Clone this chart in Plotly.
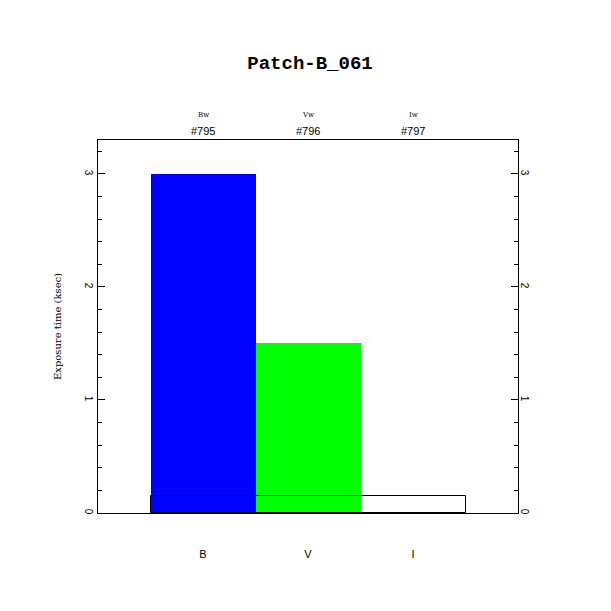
import plotly.graph_objects as go

categories = ["B", "V", "I"]
exposure_ksec = [3.0, 1.5, 0.0]
bar_colors = ["#0000ff", "#00ff00", "#ffffff"]
filter_names = ["Bw", "Vw", "Iw"]
obs_ids = ["#795", "#796", "#797"]
outline_value = 0.15
title = "Patch-B_061"
y_ticks = [0, 1, 2, 3]

xpos = list(range(len(categories)))

fig = go.Figure()
fig.add_trace(go.Bar(
    x=xpos, y=exposure_ksec, width=1.0,
    marker=dict(color=bar_colors, line=dict(width=0)),
    showlegend=False, hoverinfo="skip"))
fig.add_trace(go.Bar(
    x=[sum(xpos) / len(xpos)], y=[outline_value], width=float(len(xpos)),
    marker=dict(color="rgba(0,0,0,0)", line=dict(color="black", width=1)),
    showlegend=False, hoverinfo="skip"))
# invisible helper so the right-hand axis is drawn
fig.add_trace(go.Scatter(
    x=xpos, y=exposure_ksec, yaxis="y2", mode="markers",
    marker=dict(opacity=0), showlegend=False, hoverinfo="skip"))

for xi, fn, oid in zip(xpos, filter_names, obs_ids):
    fig.add_annotation(x=xi, xref="x", y=1, yref="paper", yanchor="middle", yshift=25,
                       text=fn, showarrow=False,
                       font=dict(family="DejaVu Serif", size=7, color="black"))
    fig.add_annotation(x=xi, xref="x", y=1, yref="paper", yanchor="middle", yshift=9,
                       text=oid, showarrow=False,
                       font=dict(family="Liberation Sans", size=11, color="black"))

axis_common = dict(range=[0, 3.3], tickvals=y_ticks, ticktext=[str(v) for v in y_ticks],
                   ticks="inside", ticklen=7, tickwidth=1, tickcolor="black",
                   tickangle=90, showgrid=False, zeroline=False, automargin=False,
                   tickfont=dict(family="Liberation Sans", size=10, color="black"),
                   minor=dict(dtick=0.2, tick0=0, ticks="inside", ticklen=4,
                              tickcolor="black", tickwidth=1, showgrid=False))

# the page body adds an 8px offset, so margins are reduced by 8px on left/top
fig.update_layout(
    width=611, height=611,
    margin=dict(l=90, r=101, t=132, b=106, autoexpand=False),
    plot_bgcolor="white", paper_bgcolor="white",
    barmode="overlay", bargap=0,
    title=dict(text=title, x=302 / 611, xanchor="center", y=1 - 54 / 611, yanchor="middle",
               font=dict(family="Liberation Mono", size=19, color="black", weight="bold")),
    xaxis=dict(range=[-1, 3], tickvals=xpos, ticktext=categories,
               showline=True, linecolor="black", linewidth=1, mirror=True,
               ticks="", showgrid=False, zeroline=False, ticklabelstandoff=31,
               automargin=False,
               tickfont=dict(family="Liberation Sans", size=11, color="black")),
    yaxis=dict(showline=True, linecolor="black", linewidth=1, mirror=True,
               title=dict(text="Exposure time (ksec)", standoff=19,
                          font=dict(family="DejaVu Serif", size=10, color="black")),
               **axis_common),
    yaxis2=dict(overlaying="y", side="right", anchor="x", showline=False,
                **axis_common),
)

fig.write_html("out.html")
